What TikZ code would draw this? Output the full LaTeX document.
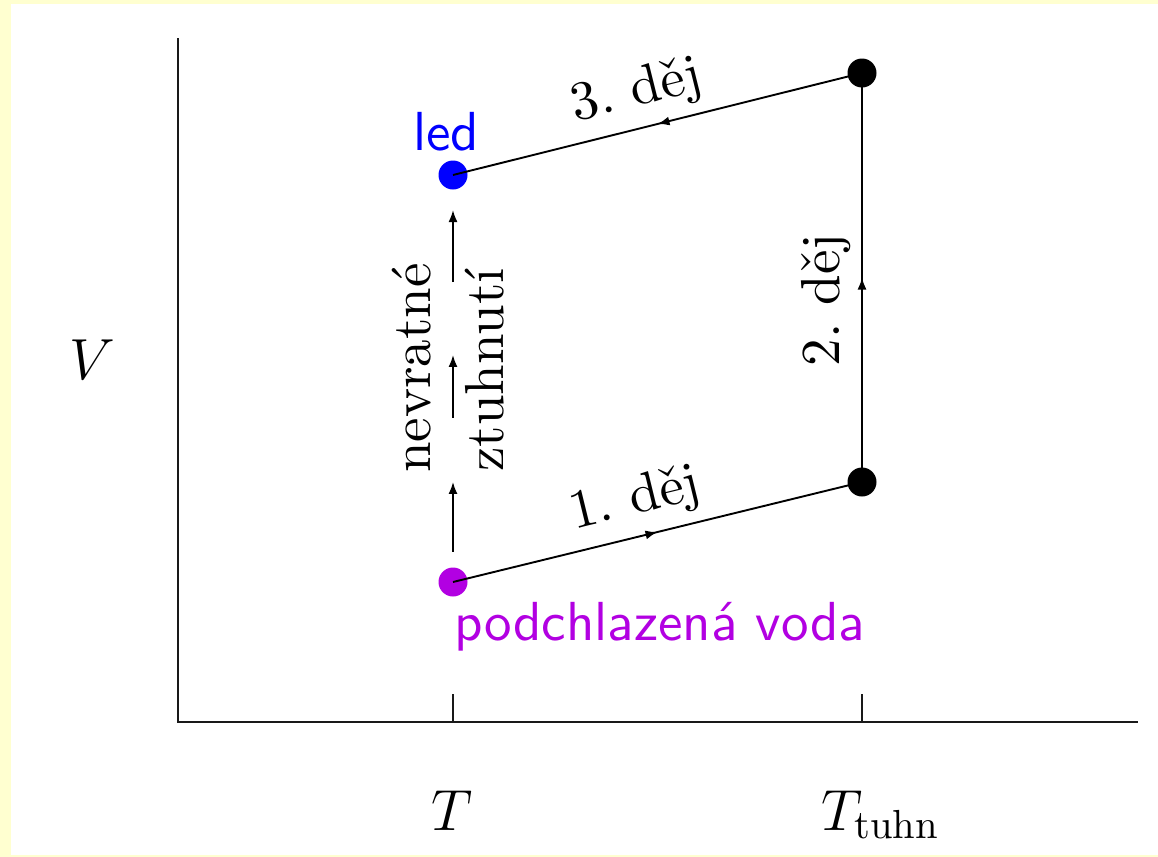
\RequirePackage{fix-cm}
\documentclass[tikz,border=0pt]{standalone}
\usepackage{fontspec}
\setmainfont{lmroman10-regular.otf}
\setsansfont{lmsans10-regular.otf}
\usetikzlibrary{calc,arrows.meta,decorations.markings}
\definecolor{bgyellow}{RGB}{255,255,208}
\definecolor{wpurple}{RGB}{178,0,226}
\newcommand{\bigfont}{\fontsize{27.5}{33}\selectfont\frenchspacing}
\newcommand{\mathfont}{\fontsize{29}{34}\selectfont}
\tikzset{
  axisline/.style={line width=1.4pt, black!90},
  tickline/.style={line width=1.2pt, black!90},
  dotnode/.style={circle, inner sep=0pt, minimum size=14.5pt, draw=none},
  procline/.style={line width=0.95pt,
    decoration={markings, mark=at position 0.5 with {\arrow{Latex[length=6pt,width=4.5pt]}}},
    postaction={decorate}},
  vecline/.style={line width=0.95pt, -{Latex[length=6pt,width=4.5pt]}},
  plbl/.style={font=\bigfont, sloped, anchor=south, inner sep=5pt},
  rlbl/.style={font=\bigfont, inner sep=0pt},
  mlbl/.style={font=\mathfont, inner sep=0pt},
  slbl/.style={font=\bigfont\sffamily, inner sep=0pt},
}
\begin{document}
\begin{tikzpicture}[x=0.5pt,y=-0.5pt]
\fill[bgyellow] (0,0) rectangle (1158,857);
\fill[white] (11,4) rectangle (1158,855);
\useasboundingbox (0,0) rectangle (1158,857);
% axes
\coordinate (O) at (178,722);
\coordinate (Ytop) at (178,38);
\coordinate (Xend) at (1138,722);
\draw[axisline] (Ytop) -- (O) -- (Xend);
\coordinate (t1) at (453,722);
\coordinate (t1u) at (453,694);
\coordinate (t2) at (862,722);
\coordinate (t2u) at (862,694);
\draw[tickline] (t1) -- (t1u);
\draw[tickline] (t2) -- (t2u);
\node[mlbl] (lT) at (452,811) {$T$};
\node[mlbl] (lTt) at (880,815) {$T_{\mathrm{tuhn}}$};
\node[mlbl] (lV) at (92,360) {$V$};
% points
\node[dotnode, fill=wpurple] (P) at (453,582) {};
\node[dotnode, fill=blue] (B) at (453,175) {};
\node[dotnode, fill=black] (C) at (862,482) {};
\node[dotnode, fill=black] (D) at (862,73) {};
% processes
\draw[procline] (P.center) -- node[plbl, pos=0.467] {1. děj} (C.center);
\draw[procline] (C.center) -- node[plbl, pos=0.445] {2. děj} (D.center);
\draw[procline] (D.center) -- node[plbl, pos=0.53] {3. děj} (B.center);
% irreversible solidification
\draw[vecline] ($(P)!0.074!(B)$) -- ($(P)!0.246!(B)$);
\draw[vecline] ($(P)!0.403!(B)$) -- ($(P)!0.558!(B)$);
\draw[vecline] ($(P)!0.737!(B)$) -- ($(P)!0.914!(B)$);
\node[rlbl, rotate=90, anchor=base] (nev) at (430,368) {nevratné};
\node[rlbl, rotate=90, anchor=base] (ztu) at (503,370) {ztuhnutí};
% state labels
\node[slbl, text=blue, anchor=base] (led) at (446,150) {led};
\node[slbl, text=wpurple, anchor=base west] (voda) at (454,640) {podchlazená voda};
\end{tikzpicture}
\end{document}
